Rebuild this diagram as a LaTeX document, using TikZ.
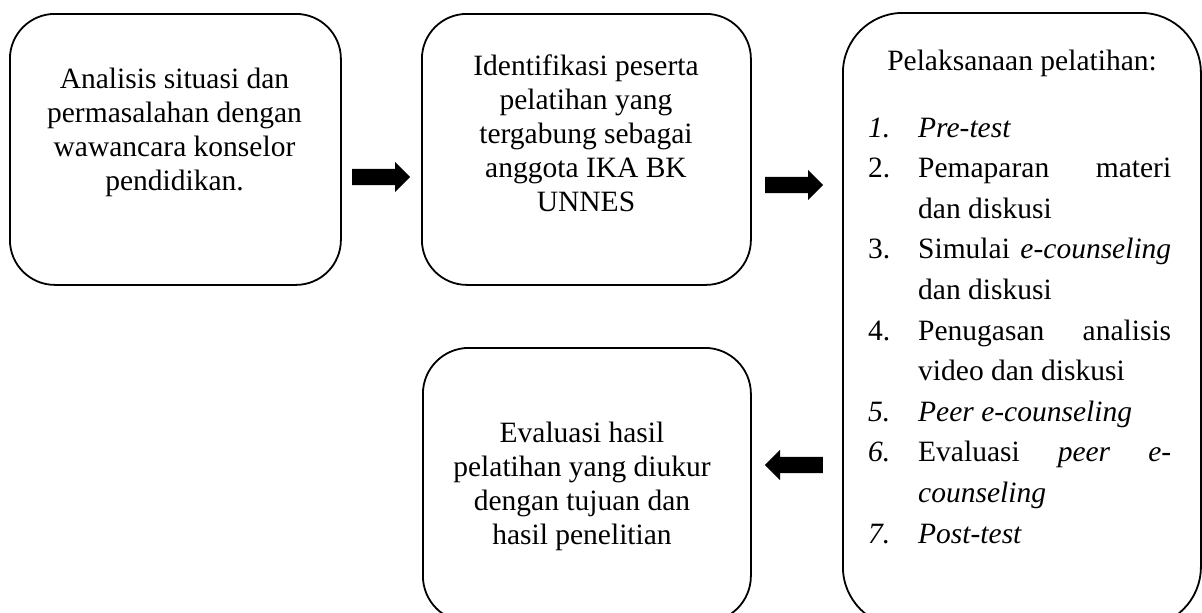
\documentclass[tikz,border=0pt]{standalone}
\usepackage{fontspec}
\setmainfont{Liberation Serif}
\usetikzlibrary{shapes.arrows}
\begin{document}
\begin{tikzpicture}[x=1pt,y=-1pt,
  box/.style={draw, line width=1.8pt, anchor=north west, inner sep=0pt},
  txt/.style={inner sep=0pt, anchor=base, font=\fontsize{29.5}{34}\selectfont},
  listtxt/.style={inner sep=0pt, anchor=base west, font=\fontsize{29.5}{40.6}\selectfont},
  blockarrow/.style={single arrow, fill=black, draw=none, inner sep=8pt,
    minimum height=58pt, single arrow head extend=7pt, single arrow tip angle=90, anchor=tail}
]
\clip (0,0) rectangle (1202,613);
% boxes
\node[box, rounded corners=45pt, minimum width=331pt, minimum height=271pt] (b1) at (9,13) {};
\node[box, rounded corners=45pt, minimum width=329pt, minimum height=271pt] (b2) at (421,13) {};
\node[box, rounded corners=60pt, minimum width=358pt, minimum height=614pt] (b3) at (842,12) {};
\node[box, rounded corners=46pt, minimum width=328pt, minimum height=274pt] (b4) at (422,347) {};
% texts
\node[txt] (t1) at (174.5,88) {\begin{tabular}[t]{@{}c@{}}Analisis situasi dan\\permasalahan dengan\\wawancara konselor\\pendidikan.\end{tabular}};
\node[txt] (t2) at (586,75) {\begin{tabular}[t]{@{}c@{}}Identifikasi peserta\\pelatihan yang\\tergabung sebagai\\anggota IKA BK\\UNNES\end{tabular}};
\node[txt] (t4) at (582,442) {\begin{tabular}[t]{@{}c@{}}Evaluasi hasil\\pelatihan yang diukur\\dengan tujuan dan\\hasil penelitian\end{tabular}};
\node[txt] (t3) at (1022,70) {Pelaksanaan pelatihan:};
\node[listtxt] (list) at (868,137) {\begin{tabular}[t]{@{}p{50pt}@{}l@{}}
\textit{1.} & \textit{Pre-test}\\
2. & \makebox[253pt][s]{Pemaparan materi}\\
 & dan diskusi\\
3. & \makebox[253pt][s]{Simulai \textit{e-counseling}}\\
 & dan diskusi\\
4. & \makebox[253pt][s]{Penugasan analisis}\\
 & video dan diskusi\\
\textit{5.} & \textit{Peer e-counseling}\\
\textit{6.} & \makebox[253pt][s]{Evaluasi \textit{peer} \textit{e-}}\\
 & \textit{counseling}\\
\textit{7.} & \textit{Post-test}
\end{tabular}};
% arrows
\node[blockarrow] (a1) at (352,177) {};
\node[blockarrow] (a2) at (765,185) {};
\node[blockarrow, shape border rotate=180] (a3) at (823,465) {};
\end{tikzpicture}
\end{document}
